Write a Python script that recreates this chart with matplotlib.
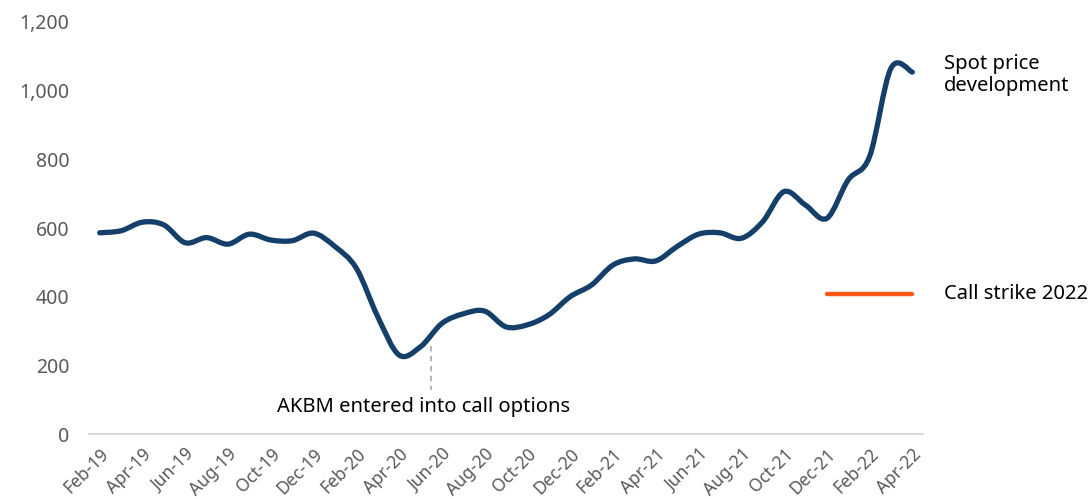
import matplotlib

matplotlib.use("Agg")
import matplotlib.pyplot as plt
import numpy as np
from matplotlib.patches import PathPatch
from matplotlib.path import Path
from matplotlib.ticker import FuncFormatter

plt.rcParams["font.family"] = ["Noto Sans", "DejaVu Sans"]

months = [
    "Feb-19", "Mar-19", "Apr-19", "May-19", "Jun-19", "Jul-19", "Aug-19", "Sep-19",
    "Oct-19", "Nov-19", "Dec-19", "Jan-20", "Feb-20", "Mar-20", "Apr-20", "May-20",
    "Jun-20", "Jul-20", "Aug-20", "Sep-20", "Oct-20", "Nov-20", "Dec-20", "Jan-21",
    "Feb-21", "Mar-21", "Apr-21", "May-21", "Jun-21", "Jul-21", "Aug-21", "Sep-21",
    "Oct-21", "Nov-21", "Dec-21", "Jan-22", "Feb-22", "Mar-22", "Apr-22",
]
spot_price = [
    586, 592, 617, 609, 557, 572, 553, 582,
    565, 563, 585, 546, 483, 342, 230, 254,
    322, 350, 358, 312, 318, 347, 400, 434,
    492, 510, 504, 546, 582, 586, 570, 618,
    706, 667, 628, 740, 808, 1065, 1054,
]
strike_months = ["Dec-21", "Jan-22", "Feb-22", "Mar-22", "Apr-22"]
call_strike = [407, 407, 407, 407, 407]

NAVY = "#143f69"
ORANGE = "#ff5a14"
GREY = "#595959"


def smooth_path(x, y):
    """Cubic Bezier path through (x, y), control points in the spreadsheet 'smoothed line' style."""
    pts = np.column_stack([x, y]).astype(float)
    padded = np.vstack([pts[0], pts, pts[-1]])
    verts = [pts[0]]
    codes = [Path.MOVETO]
    for i in range(len(pts) - 1):
        p0, p1, p2, p3 = padded[i], padded[i + 1], padded[i + 2], padded[i + 3]
        verts += [p1 + (p2 - p0) / 6.0, p2 - (p3 - p1) / 6.0, p2]
        codes += [Path.CURVE4] * 3
    return Path(verts, codes)


fig = plt.figure(figsize=(10.91, 4.99), dpi=100)
ax = fig.add_axes([89 / 1091, 65 / 499, 834 / 1091, 412 / 499])

xs = np.arange(len(months))
ax.add_patch(PathPatch(smooth_path(xs, spot_price), facecolor="none", edgecolor=NAVY,
                       lw=3.8, capstyle="round", joinstyle="round"))

strike_x = [months.index(m) for m in strike_months]
ax.plot(strike_x, call_strike, color=ORANGE, lw=3.2, solid_capstyle="round")

# marker for when the call options were entered
ax.plot([15.5, 15.5], [256, 128], color="#b0b0b0", lw=1.3, ls=(0, (3, 2.5)))
ax.text(15.15, 78, "AKBM entered into call options", ha="center", va="center",
        fontsize=14.5, color="black")

ax.text(1.025, 1045 / 1200, "Spot price\ndevelopment", transform=ax.transAxes,
        ha="left", va="center", fontsize=14.5, color="black", linespacing=1.15)
ax.text(1.025, call_strike[0] / 1200, "Call strike 2022", transform=ax.transAxes,
        ha="left", va="center", fontsize=14.5, color="black")

ax.set_xlim(-0.5, len(months) - 0.5)
ax.set_ylim(0, 1200)
ax.set_xticks(xs[::2])
ax.set_xticklabels(months[::2], rotation=45, ha="right", va="top",
                   rotation_mode="anchor", color=GREY, fontsize=12.5)
ax.set_yticks(range(0, 1201, 200))
ax.yaxis.set_major_formatter(FuncFormatter(lambda v, _: f"{int(v):,}"))
ax.tick_params(axis="y", length=0, pad=14, labelsize=14, labelcolor=GREY)
ax.tick_params(axis="x", length=0, pad=8)

for side in ("left", "right", "top"):
    ax.spines[side].set_visible(False)
ax.spines["bottom"].set_color("#d9d9d9")
ax.spines["bottom"].set_linewidth(1.5)

fig.savefig("out.png", dpi=100)
